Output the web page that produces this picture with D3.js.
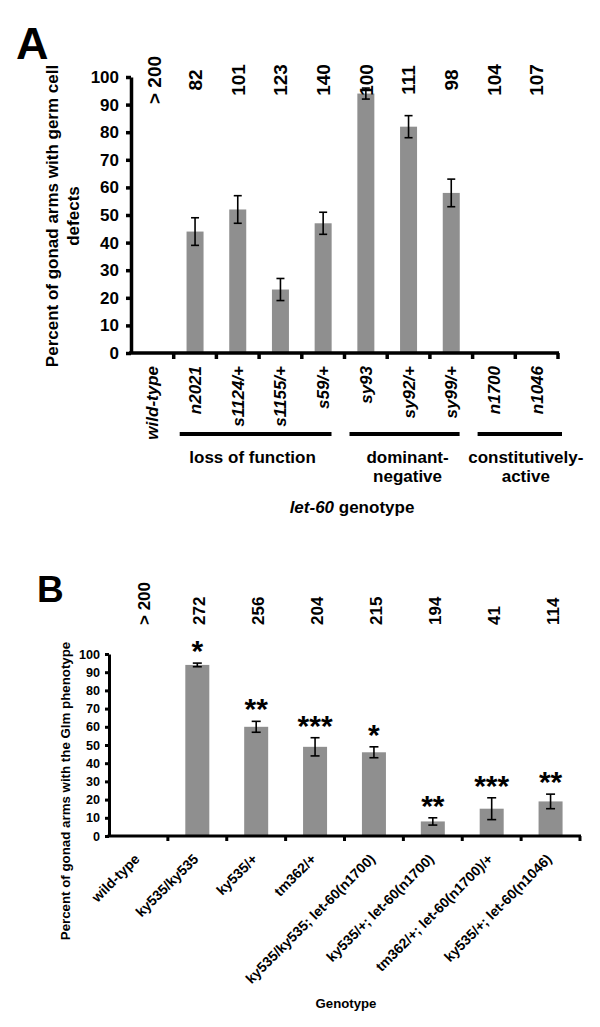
<!DOCTYPE html>
<html><head><meta charset="utf-8">
<script src="https://cdn.jsdelivr.net/npm/d3@7"></script>
<style>
body{margin:0;background:#fff}
svg{display:block;font-family:"Liberation Sans",Arial,sans-serif;font-weight:bold}
</style>
</head><body>
<script>
// ---------- Panel A data ----------
const catsA = ["wild-type","n2021","s1124/+","s1155/+","s59/+","sy93","sy92/+","sy99/+","n1700","n1046"];
const valsA = [0,44,52,23,47,94,82,58,0,0];
const errA  = [0,5,5,4,4,2,4,5,0,0];
const nA    = ["> 200","82","101","123","140","100","111","98","104","107"];
const ticksA = [0,10,20,30,40,50,60,70,80,90,100];
const groupLines = [["loss of function"],["dominant-","negative"],["constitutively-","active"]];
const groupFrom  = ["n2021","sy93","n1700"];
const groupTo    = ["s59/+","sy99/+","n1046"];

// ---------- Panel B data ----------
const catsB = ["wild-type","ky535/ky535","ky535/+","tm362/+","ky535/ky535; let-60(n1700)","ky535/+; let-60(n1700)","tm362/+; let-60(n1700)/+","ky535/+; let-60(n1046)"];
const valsB = [0,94,60,49,46,8,15,19];
const errB  = [0,1,3,5,3,2,6,4];
const nB    = ["> 200","272","256","204","215","194","41","114"];
const starsB = ["","*","**","***","*","**","***","**"];
const ticksB = [0,10,20,30,40,50,60,70,80,90,100];

const W = 600, H = 1027;
const svg = d3.select("body").append("svg").attr("width", W).attr("height", H);
const barColor = "#8f8f8f";

// ================= Panel A =================
const xAb = d3.scaleBand().domain(catsA).range([131, 558]);
const yA = d3.scaleLinear().domain([0, 100]).range([353, 77]);
const gA = svg.append("g");

gA.append("text").attr("x", 16).attr("y", 59).attr("font-size", 45).text("A");

gA.selectAll(".barA").data(catsA).join("rect")
  .attr("x", d => xAb(d) + xAb.bandwidth()/2 - 8.5)
  .attr("width", 17)
  .attr("y", (d,i) => yA(valsA[i]))
  .attr("height", (d,i) => yA(0) - yA(valsA[i]))
  .attr("fill", barColor);

const ebA = gA.selectAll(".ebA").data(catsA.filter((d,i)=>errA[i]>0)).join("g");
ebA.each(function(d){
  const i = catsA.indexOf(d), cx = xAb(d) + xAb.bandwidth()/2;
  const g = d3.select(this);
  const t = yA(valsA[i]+errA[i]), b = yA(valsA[i]-errA[i]);
  g.append("line").attr("x1",cx).attr("x2",cx).attr("y1",t).attr("y2",b);
  g.append("line").attr("x1",cx-4).attr("x2",cx+4).attr("y1",t).attr("y2",t);
  g.append("line").attr("x1",cx-4).attr("x2",cx+4).attr("y1",b).attr("y2",b);
});
ebA.selectAll("line").attr("stroke","#000").attr("stroke-width",1.6);

const axA = gA.append("g").attr("transform","translate(131,0)")
  .call(d3.axisLeft(yA).tickValues(ticksA).tickSize(5).tickPadding(7).tickSizeOuter(0));
axA.select(".domain").attr("stroke-width",3.5);
axA.selectAll(".tick line").attr("stroke-width",3.5);
axA.selectAll("text").attr("font-size",17).attr("font-family",null).attr("font-weight","bold");

gA.append("line").attr("x1",129).attr("x2",559).attr("y1",yA(0)).attr("y2",yA(0))
  .attr("stroke","#000").attr("stroke-width",3.5);
const bndA = catsA.slice(1).map(d=>xAb(d)).concat([xAb(catsA[catsA.length-1]) + xAb.step()]);
gA.selectAll(".btA").data(bndA).join("line")
  .attr("x1",d=>d).attr("x2",d=>d).attr("y1",yA(0)).attr("y2",yA(0)+6)
  .attr("stroke","#000").attr("stroke-width",3.5);

gA.selectAll(".xlA").data(catsA).join("text")
  .attr("transform", d => `translate(${xAb(d)+xAb.bandwidth()/2},366) rotate(-90)`)
  .attr("dy","0.35em").attr("text-anchor","end").attr("font-size",17).attr("font-style","italic")
  .text(d=>d);

gA.selectAll(".nA").data(nA).join("text")
  .attr("transform", (d,i) => `translate(${xAb(catsA[i])+xAb.bandwidth()/2 + (i===0?2:0)},80) rotate(-90)`)
  .attr("dy","0.36em").attr("text-anchor","middle").attr("font-size",19)
  .text(d=>d);

groupFrom.forEach((f,k)=>{
  const x1 = xAb(f) + (k===0 ? 6 : 5);
  const x2 = xAb(groupTo[k]) + xAb.step() - (k===2 ? -4 : 13);
  gA.append("line").attr("x1",x1).attr("x2",x2).attr("y1",434).attr("y2",434)
    .attr("stroke","#000").attr("stroke-width",4);
  const cx = (x1+x2)/2 + (k===0 ? -3 : (k===1 ? 3 : 6));
  const t = gA.append("text").attr("x",cx).attr("y",463).attr("text-anchor","middle").attr("font-size",17);
  groupLines[k].forEach((s,j)=>{
    t.append("tspan").attr("x",cx).attr("dy", j===0?0:19).text(s);
  });
});

const tA = gA.append("text").attr("x",352).attr("y",513).attr("text-anchor","middle").attr("font-size",17);
tA.append("tspan").attr("font-style","italic").text("let-60");
tA.append("tspan").text(" genotype");

const ytA = gA.append("text").attr("transform","translate(58,216) rotate(-90)")
  .attr("text-anchor","middle").attr("font-size",17);
ytA.append("tspan").attr("x",0).attr("dy",0).text("Percent of gonad arms with germ cell");
ytA.append("tspan").attr("x",0).attr("dy",21).text("defects");

// ================= Panel B =================
const xB = d3.scaleBand().domain(catsB).range([109, 580]);
const yB = d3.scaleLinear().domain([0, 100]).range([836, 654]);
const gB = svg.append("g");

gB.append("text").attr("x", 37).attr("y", 602).attr("font-size", 37).text("B");

gB.selectAll(".barB").data(catsB).join("rect")
  .attr("x", d => xB(d) + xB.bandwidth()/2 - 12)
  .attr("width", 24)
  .attr("y", (d,i) => yB(valsB[i]))
  .attr("height", (d,i) => yB(0) - yB(valsB[i]))
  .attr("fill", barColor);

const ebB = gB.selectAll(".ebB").data(catsB.filter((d,i)=>errB[i]>0)).join("g");
ebB.each(function(d){
  const i = catsB.indexOf(d), cx = xB(d) + xB.bandwidth()/2;
  const g = d3.select(this);
  const t = yB(valsB[i]+errB[i]), b = yB(valsB[i]-errB[i]);
  g.append("line").attr("x1",cx).attr("x2",cx).attr("y1",t).attr("y2",b);
  g.append("line").attr("x1",cx-4.5).attr("x2",cx+4.5).attr("y1",t).attr("y2",t);
  g.append("line").attr("x1",cx-4.5).attr("x2",cx+4.5).attr("y1",b).attr("y2",b);
});
ebB.selectAll("line").attr("stroke","#000").attr("stroke-width",1.6);

gB.selectAll(".star").data(catsB).join("text")
  .attr("x", d => xB(d) + xB.bandwidth()/2)
  .attr("y", (d,i) => yB(valsB[i]+errB[i]) - 2)
  .attr("text-anchor","middle").attr("font-size",30)
  .text((d,i)=>starsB[i]);

const axB = gB.append("g").attr("transform","translate(109,0)")
  .call(d3.axisLeft(yB).tickValues(ticksB).tickSize(4).tickPadding(5).tickSizeOuter(0));
axB.select(".domain").attr("stroke-width",3);
axB.selectAll(".tick line").attr("stroke-width",3);
axB.selectAll("text").attr("font-size",12.6).attr("font-family",null).attr("font-weight","bold");

gB.append("line").attr("x1",107.5).attr("x2",581).attr("y1",yB(0)).attr("y2",yB(0))
  .attr("stroke","#000").attr("stroke-width",3);
const bndB = catsB.slice(1).map(d=>xB(d)).concat([xB(catsB[catsB.length-1]) + xB.step()]);
gB.selectAll(".btB").data(bndB).join("line")
  .attr("x1",d=>d).attr("x2",d=>d).attr("y1",yB(0)).attr("y2",yB(0)+5)
  .attr("stroke","#000").attr("stroke-width",3);

gB.selectAll(".xlB").data(catsB).join("text")
  .attr("transform", d => `translate(${xB(d)+xB.bandwidth()/2 + 2},860) rotate(-45)`)
  .attr("text-anchor","end").attr("font-size",14)
  .text(d=>d);

gB.selectAll(".nB").data(nB).join("text")
  .attr("transform", (d,i) => `translate(${xB(catsB[i])+xB.bandwidth()/2 + (i===0?5:2)},625) rotate(-90)`)
  .attr("dy","0.36em").attr("text-anchor","start").attr("font-size",17)
  .text(d=>d);

gB.append("text").attr("x",346).attr("y",1008).attr("text-anchor","middle").attr("font-size",13.2).text("Genotype");

gB.append("text").attr("transform","translate(70,791) rotate(-90)")
  .attr("text-anchor","middle").attr("font-size",13.3)
  .text("Percent of gonad arms with the Glm phenotype");
</script>
</body></html>
